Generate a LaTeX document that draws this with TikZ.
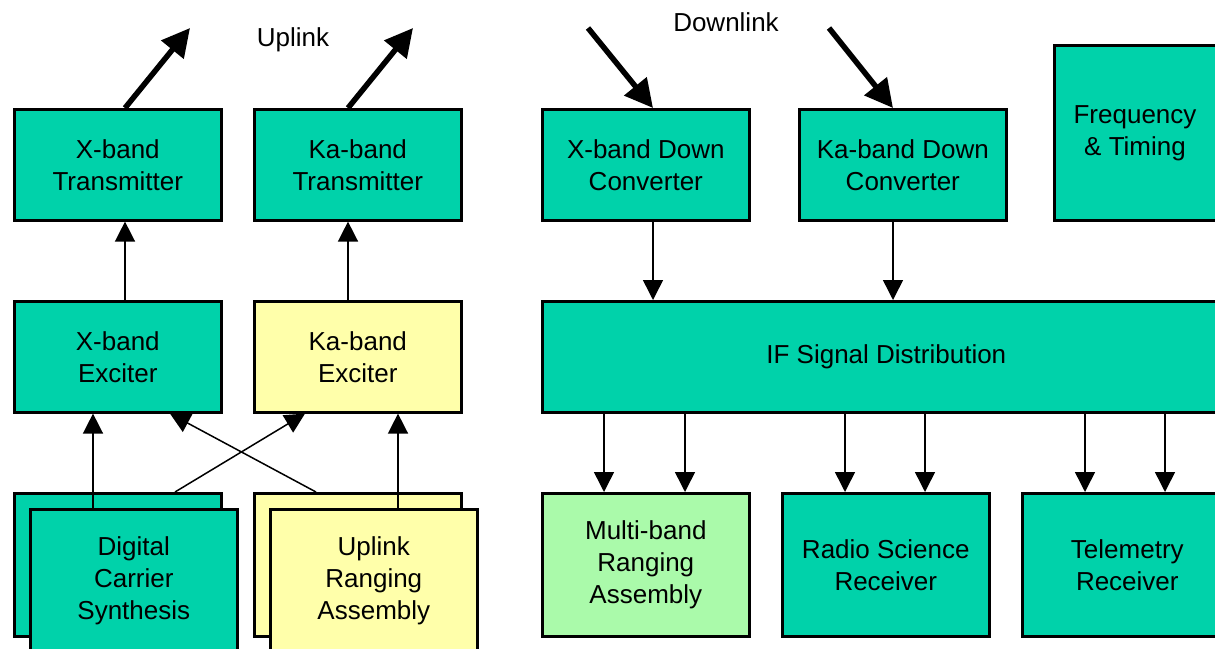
\documentclass[tikz,border=0pt]{standalone}
\usepackage{fontspec}
\setmainfont{Liberation Sans}
\usetikzlibrary{arrows.meta,calc}
\definecolor{tealbox}{RGB}{0,210,170}
\definecolor{yelbox}{RGB}{255,255,170}
\definecolor{greenbox}{RGB}{170,250,170}
\begin{document}
\begin{tikzpicture}[x=1pt,y=-1pt,
  box/.style={draw=black, line width=2.6pt, align=center, inner sep=0pt,
    anchor=north west, font=\fontsize{26}{32}\selectfont,
    minimum width=207pt, minimum height=111pt},
  tallbox/.style={box, minimum height=143pt},
  thinarr/.style={line width=1.5pt, -{Triangle[length=20pt,width=20pt]}},
  thickarr/.style={line width=5.5pt, -{Triangle[length=28pt,width=28pt]}},
  lbl/.style={font=\fontsize{26}{32}\selectfont, inner sep=0pt}]
\clip (0,0) rectangle (1215,648);
\fill[white] (0,0) rectangle (1215,648);

% Row 1
\node[box, fill=tealbox] (xtx) at (13,108) {X-band\\Transmitter};
\node[box, fill=tealbox] (ktx) at (253,108) {Ka-band\\Transmitter};
\node[box, fill=tealbox] (xdc) at (541,108) {X-band Down\\Converter};
\node[box, fill=tealbox] (kdc) at (798,108) {Ka-band Down\\Converter};
\node[box, fill=tealbox, minimum width=166pt, minimum height=175pt] (ft) at (1053,44) {};
\node[lbl, align=center] (fttext) at (1135,133) {Frequency\\\& Timing};

% Row 2
\node[box, fill=tealbox] (xex) at (13,300) {X-band\\Exciter};
\node[box, fill=yelbox] (kex) at (253,300) {Ka-band\\Exciter};
\node[box, fill=tealbox, minimum width=688pt] (ifd) at (541,300) {IF Signal Distribution};

% Row 3
\node[tallbox, fill=tealbox] (dcsb) at (13,492) {};
\node[tallbox, fill=tealbox] (dcs) at (29,508) {Digital\\Carrier\\Synthesis};
\node[tallbox, fill=yelbox] (urab) at (253,492) {};
\node[tallbox, fill=yelbox] (ura) at (269,508) {Uplink\\Ranging\\Assembly};
\node[tallbox, fill=greenbox] (mbr) at (541,492) {Multi-band\\Ranging\\Assembly};
\node[tallbox, fill=tealbox] (rsr) at (781,492) {Radio Science\\Receiver};
\node[tallbox, fill=tealbox, minimum width=210pt] (tlm) at (1021,492) {Telemetry\\Receiver};

% Labels
\node[lbl] (uplink) at (293,40) {Uplink};
\node[lbl] (downlink) at (726,22) {Downlink};

% Thick uplink / downlink arrows
\coordinate (up1) at (190,28);
\coordinate (up2) at (413,28);
\coordinate (dn1) at (588,28);
\coordinate (dn2) at (829,28);
\draw[thickarr] ($(xtx.north west)+(112,0)$) -- (up1);
\draw[thickarr] ($(ktx.north west)+(95,0)$) -- (up2);
\draw[thickarr] (dn1) -- ($(xdc.north west)+(112,0)$);
\draw[thickarr] (dn2) -- ($(kdc.north west)+(95,0)$);

% Uplink chain
\draw[thinarr] ($(xex.north west)+(112,0)$) -- ($(xtx.south west)+(112,0)$);
\draw[thinarr] ($(kex.north west)+(95,0)$) -- ($(ktx.south west)+(95,0)$);
\draw[thinarr] ($(dcs.north west)+(64,0)$) -- ($(xex.south west)+(80,0)$);
\draw[thinarr] ($(ura.north west)+(129,0)$) -- ($(kex.south west)+(145,0)$);
\draw[thinarr] ($(dcsb.north west)+(162,0)$) -- ($(kex.south west)+(52,0)$);
\draw[thinarr] ($(urab.north west)+(63,0)$) -- ($(xex.south west)+(157,0)$);

% Downlink chain
\draw[thinarr] ($(xdc.south west)+(112,0)$) -- ($(ifd.north west)+(112,0)$);
\draw[thinarr] ($(kdc.south west)+(95,0)$) -- ($(ifd.north west)+(352,0)$);
\draw[thinarr] ($(ifd.south west)+(63,0)$) -- ($(mbr.north west)+(63,0)$);
\draw[thinarr] ($(ifd.south west)+(144,0)$) -- ($(mbr.north west)+(144,0)$);
\draw[thinarr] ($(ifd.south west)+(304,0)$) -- ($(rsr.north west)+(64,0)$);
\draw[thinarr] ($(ifd.south west)+(384,0)$) -- ($(rsr.north west)+(144,0)$);
\draw[thinarr] ($(ifd.south west)+(544,0)$) -- ($(tlm.north west)+(64,0)$);
\draw[thinarr] ($(ifd.south west)+(624,0)$) -- ($(tlm.north west)+(144,0)$);
\end{tikzpicture}
\end{document}
